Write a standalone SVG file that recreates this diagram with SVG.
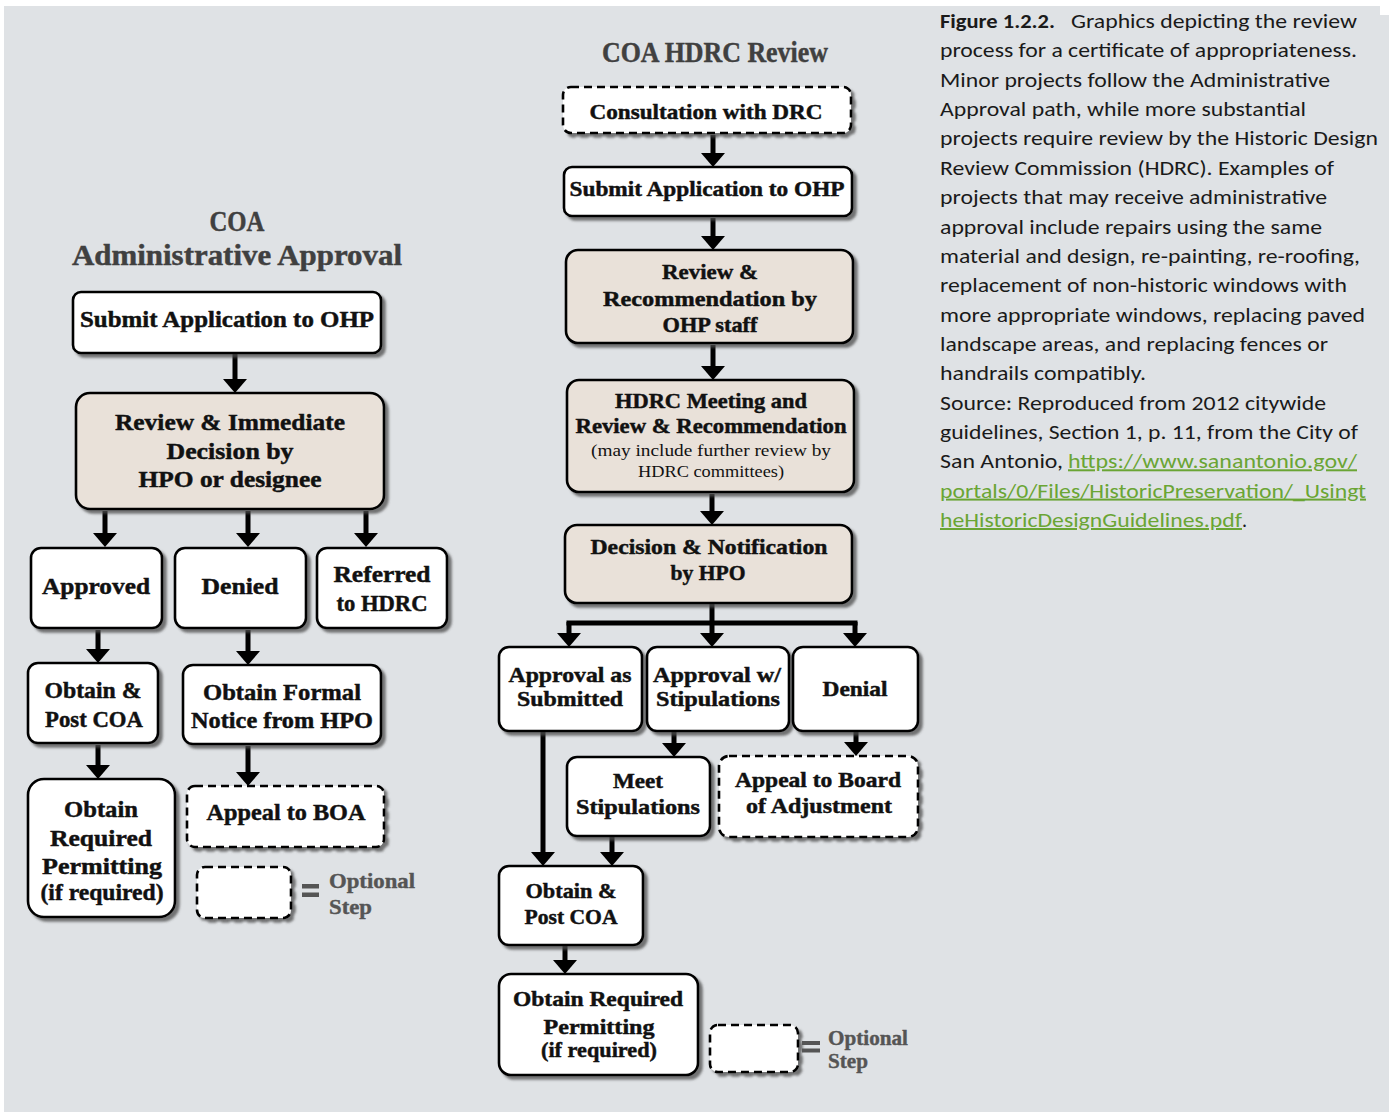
<svg xmlns="http://www.w3.org/2000/svg" width="1389" height="1112" viewBox="0 0 1389 1112">
<defs>
<filter id="sh" x="-10%" y="-10%" width="130%" height="140%">
<feDropShadow dx="3.5" dy="3.5" stdDeviation="1" flood-color="#4d4d4d" flood-opacity="0.75"/>
</filter>
<marker id="ah" markerUnits="userSpaceOnUse" markerWidth="14" markerHeight="24" viewBox="0 0 14 24" refX="0" refY="12" orient="auto">
<path d="M0,0 L14,12 L0,24 z" fill="#000"/>
</marker>
<style>
.box{fill:#fff;stroke:#000;stroke-width:2.6;filter:url(#sh)}
.tan{fill:#e9e1d9}
.dash{stroke-dasharray:8 5}
.t{font-family:"Liberation Serif",serif;font-weight:bold;fill:#111;stroke:#111;stroke-width:0.45;text-anchor:middle}
.l{font-size:23px}
.r{font-size:21px}
.s{font-size:16px;font-weight:normal;stroke-width:0}
.title{font-size:29px;fill:#404040;stroke:#404040}
.leg{font-family:"Liberation Serif",serif;font-weight:bold;fill:#555;stroke:#555;stroke-width:0.4;font-size:21px}
.eq{fill:#555}
.ar{stroke:#000;stroke-width:5;fill:none;marker-end:url(#ah)}
.ln{stroke:#000;stroke-width:5;fill:none}
.cap{font-family:Carlito,Lato,"Liberation Sans",sans-serif;font-size:20px;fill:#1a1a1a}
.link{fill:#6aa534;text-decoration:underline}
</style>
</defs>
<rect x="0" y="0" width="1389" height="1112" fill="#fff"/>
<rect x="4" y="6" width="1385" height="1106" fill="#dfe2e5"/>
<rect x="1380" y="0" width="9" height="15" fill="#fff"/>

<!-- Titles -->
<g id="title-left">
<text class="t title" x="237" y="231" textLength="55" lengthAdjust="spacingAndGlyphs">COA</text>
<text class="t title" x="237" y="265" textLength="330" lengthAdjust="spacingAndGlyphs">Administrative Approval</text>
</g>
<g id="title-right">
<text class="t title" x="715" y="62" textLength="226" lengthAdjust="spacingAndGlyphs">COA HDRC Review</text>
</g>

<!-- Connectors -->
<g id="connectors">
<line class="ar" x1="235" y1="354" x2="235" y2="379"/>
<line class="ar" x1="105" y1="511" x2="105" y2="533"/>
<line class="ar" x1="248" y1="511" x2="248" y2="533"/>
<line class="ar" x1="366" y1="511" x2="366" y2="533"/>
<line class="ar" x1="98" y1="630" x2="98" y2="649"/>
<line class="ar" x1="248" y1="630" x2="248" y2="651"/>
<line class="ar" x1="98" y1="745" x2="98" y2="765"/>
<line class="ar" x1="248" y1="746" x2="248" y2="772"/>
<line class="ar" x1="713" y1="135" x2="713" y2="153"/>
<line class="ar" x1="713" y1="218" x2="713" y2="236"/>
<line class="ar" x1="713" y1="345" x2="713" y2="366"/>
<line class="ar" x1="712" y1="494" x2="712" y2="511"/>
<path class="ln" d="M712,604 V623"/>
<path class="ln" d="M569,623 H855" stroke-linecap="square"/>
<line class="ar" x1="569" y1="622" x2="569" y2="633"/>
<line class="ar" x1="712" y1="622" x2="712" y2="633"/>
<line class="ar" x1="855" y1="622" x2="855" y2="633"/>
<line class="ar" x1="674" y1="732" x2="674" y2="743"/>
<line class="ar" x1="856" y1="732" x2="856" y2="742"/>
<line class="ar" x1="543" y1="732" x2="543" y2="852"/>
<line class="ar" x1="612" y1="837" x2="612" y2="852"/>
<line class="ar" x1="565" y1="946" x2="565" y2="960"/>
</g>

<!-- Left column nodes -->
<g id="l-submit">
<rect class="box" x="73" y="292" width="308" height="61" rx="8"/>
<text class="t l" x="227" y="327" textLength="294" lengthAdjust="spacingAndGlyphs">Submit Application to OHP</text>
</g>
<g id="l-review">
<rect class="box tan" x="76" y="393" width="308" height="116" rx="14"/>
<text class="t l" x="230" y="430" textLength="230" lengthAdjust="spacingAndGlyphs">Review &amp; Immediate</text>
<text class="t l" x="230" y="459" textLength="127" lengthAdjust="spacingAndGlyphs">Decision by</text>
<text class="t l" x="230" y="487" textLength="183" lengthAdjust="spacingAndGlyphs">HPO or designee</text>
</g>
<g id="l-approved">
<rect class="box" x="31" y="548" width="131" height="80" rx="10"/>
<text class="t l" x="96" y="594" textLength="108" lengthAdjust="spacingAndGlyphs">Approved</text>
</g>
<g id="l-denied">
<rect class="box" x="175" y="548" width="131" height="80" rx="10"/>
<text class="t l" x="240" y="594" textLength="77" lengthAdjust="spacingAndGlyphs">Denied</text>
</g>
<g id="l-referred">
<rect class="box" x="317" y="548" width="130" height="80" rx="10"/>
<text class="t l" x="382" y="582" textLength="97" lengthAdjust="spacingAndGlyphs">Referred</text>
<text class="t l" x="382" y="611" textLength="91" lengthAdjust="spacingAndGlyphs">to HDRC</text>
</g>
<g id="l-post">
<rect class="box" x="28" y="663" width="130" height="80" rx="10"/>
<text class="t l" x="93" y="698" textLength="97" lengthAdjust="spacingAndGlyphs">Obtain &amp;</text>
<text class="t l" x="94" y="727" textLength="98" lengthAdjust="spacingAndGlyphs">Post COA</text>
</g>
<g id="l-formal">
<rect class="box" x="183" y="665" width="198" height="79" rx="10"/>
<text class="t l" x="282" y="700" textLength="158" lengthAdjust="spacingAndGlyphs">Obtain Formal</text>
<text class="t l" x="282" y="728" textLength="182" lengthAdjust="spacingAndGlyphs">Notice from HPO</text>
</g>
<g id="l-permit">
<rect class="box" x="28" y="779" width="147" height="138" rx="16"/>
<text class="t l" x="101" y="817" textLength="74" lengthAdjust="spacingAndGlyphs">Obtain</text>
<text class="t l" x="101" y="846" textLength="102" lengthAdjust="spacingAndGlyphs">Required</text>
<text class="t l" x="102" y="874" textLength="120" lengthAdjust="spacingAndGlyphs">Permitting</text>
<text class="t l" x="102" y="900" textLength="123" lengthAdjust="spacingAndGlyphs">(if required)</text>
</g>
<g id="l-boa">
<rect class="box dash" x="187" y="786" width="197" height="61" rx="8"/>
<text class="t l" x="286" y="820" textLength="159" lengthAdjust="spacingAndGlyphs">Appeal to BOA</text>
</g>
<g id="l-legend">
<rect class="box dash" x="197" y="867" width="94" height="51" rx="8"/>
<rect class="eq" x="302" y="884" width="17" height="4.5"/>
<rect class="eq" x="302" y="892.5" width="17" height="4.5"/>
<text class="leg" x="329" y="888" textLength="86" lengthAdjust="spacingAndGlyphs">Optional</text>
<text class="leg" x="329" y="914" textLength="43" lengthAdjust="spacingAndGlyphs">Step</text>
</g>

<!-- Right column nodes -->
<g id="r-consult">
<rect class="box dash" x="563" y="87" width="288" height="46" rx="8"/>
<text class="t r" x="706" y="119" textLength="233" lengthAdjust="spacingAndGlyphs">Consultation with DRC</text>
</g>
<g id="r-submit">
<rect class="box" x="564" y="167" width="288" height="49" rx="8"/>
<text class="t r" x="707" y="196" textLength="275" lengthAdjust="spacingAndGlyphs">Submit Application to OHP</text>
</g>
<g id="r-review">
<rect class="box tan" x="566" y="250" width="287" height="93" rx="12"/>
<text class="t r" x="710" y="279" textLength="96" lengthAdjust="spacingAndGlyphs">Review &amp;</text>
<text class="t r" x="710" y="306" textLength="214" lengthAdjust="spacingAndGlyphs">Recommendation by</text>
<text class="t r" x="710" y="332" textLength="95" lengthAdjust="spacingAndGlyphs">OHP staff</text>
</g>
<g id="r-hdrc">
<rect class="box tan" x="567" y="380" width="287" height="112" rx="12"/>
<text class="t r" x="711" y="408" textLength="192" lengthAdjust="spacingAndGlyphs">HDRC Meeting and</text>
<text class="t r" x="711" y="433" textLength="271" lengthAdjust="spacingAndGlyphs">Review &amp; Recommendation</text>
<text class="t s" x="711" y="456" textLength="240" lengthAdjust="spacingAndGlyphs">(may include further review by</text>
<text class="t s" x="711" y="477" textLength="146" lengthAdjust="spacingAndGlyphs">HDRC committees)</text>
</g>
<g id="r-decision">
<rect class="box tan" x="565" y="525" width="287" height="78" rx="12"/>
<text class="t r" x="709" y="554" textLength="237" lengthAdjust="spacingAndGlyphs">Decision &amp; Notification</text>
<text class="t r" x="708" y="580" textLength="75" lengthAdjust="spacingAndGlyphs">by HPO</text>
</g>
<g id="r-asis">
<rect class="box" x="499" y="647" width="143" height="84" rx="10"/>
<text class="t r" x="570" y="682" textLength="123" lengthAdjust="spacingAndGlyphs">Approval as</text>
<text class="t r" x="570" y="706" textLength="106" lengthAdjust="spacingAndGlyphs">Submitted</text>
</g>
<g id="r-stip">
<rect class="box" x="647" y="647" width="142" height="84" rx="10"/>
<text class="t r" x="717" y="682" textLength="128" lengthAdjust="spacingAndGlyphs">Approval w/</text>
<text class="t r" x="718" y="706" textLength="124" lengthAdjust="spacingAndGlyphs">Stipulations</text>
</g>
<g id="r-denial">
<rect class="box" x="793" y="647" width="125" height="84" rx="10"/>
<text class="t r" x="855" y="696" textLength="65" lengthAdjust="spacingAndGlyphs">Denial</text>
</g>
<g id="r-meet">
<rect class="box" x="567" y="757" width="143" height="79" rx="10"/>
<text class="t r" x="638" y="788" textLength="50" lengthAdjust="spacingAndGlyphs">Meet</text>
<text class="t r" x="638" y="814" textLength="124" lengthAdjust="spacingAndGlyphs">Stipulations</text>
</g>
<g id="r-appeal">
<rect class="box dash" x="719" y="756" width="199" height="81" rx="10"/>
<text class="t r" x="818" y="787" textLength="166" lengthAdjust="spacingAndGlyphs">Appeal to Board</text>
<text class="t r" x="819" y="813" textLength="146" lengthAdjust="spacingAndGlyphs">of Adjustment</text>
</g>
<g id="r-post">
<rect class="box" x="499" y="866" width="144" height="79" rx="10"/>
<text class="t r" x="571" y="898" textLength="91" lengthAdjust="spacingAndGlyphs">Obtain &amp;</text>
<text class="t r" x="571" y="924" textLength="93" lengthAdjust="spacingAndGlyphs">Post COA</text>
</g>
<g id="r-permit">
<rect class="box" x="499" y="974" width="199" height="101" rx="12"/>
<text class="t r" x="598" y="1006" textLength="170" lengthAdjust="spacingAndGlyphs">Obtain Required</text>
<text class="t r" x="599" y="1034" textLength="111" lengthAdjust="spacingAndGlyphs">Permitting</text>
<text class="t r" x="599" y="1057" textLength="116" lengthAdjust="spacingAndGlyphs">(if required)</text>
</g>
<g id="r-legend">
<rect class="box dash" x="710" y="1025" width="88" height="47" rx="8"/>
<rect class="eq" x="802" y="1041" width="18" height="4"/>
<rect class="eq" x="802" y="1048.5" width="18" height="4"/>
<text class="leg" x="828" y="1045" textLength="80" lengthAdjust="spacingAndGlyphs">Optional</text>
<text class="leg" x="828" y="1068" textLength="40" lengthAdjust="spacingAndGlyphs">Step</text>
</g>

<!-- Caption -->
<g id="caption" class="cap">
<text x="940" y="28" font-weight="bold" textLength="115" lengthAdjust="spacingAndGlyphs">Figure 1.2.2.</text>
<text x="1071" y="28" textLength="286" lengthAdjust="spacingAndGlyphs">Graphics depicting the review</text>
<text x="940" y="57.4" textLength="417" lengthAdjust="spacingAndGlyphs">process for a certificate of appropriateness.</text>
<text x="940" y="86.7" textLength="390" lengthAdjust="spacingAndGlyphs">Minor projects follow the Administrative</text>
<text x="940" y="116" textLength="366" lengthAdjust="spacingAndGlyphs">Approval path, while more substantial</text>
<text x="940" y="145.4" textLength="438" lengthAdjust="spacingAndGlyphs">projects require review by the Historic Design</text>
<text x="940" y="174.8" textLength="394" lengthAdjust="spacingAndGlyphs">Review Commission (HDRC). Examples of</text>
<text x="940" y="204.1" textLength="387" lengthAdjust="spacingAndGlyphs">projects that may receive administrative</text>
<text x="940" y="233.5" textLength="382" lengthAdjust="spacingAndGlyphs">approval include repairs using the same</text>
<text x="940" y="262.8" textLength="420" lengthAdjust="spacingAndGlyphs">material and design, re-painting, re-roofing,</text>
<text x="940" y="292.2" textLength="407" lengthAdjust="spacingAndGlyphs">replacement of non-historic windows with</text>
<text x="940" y="321.5" textLength="425" lengthAdjust="spacingAndGlyphs">more appropriate windows, replacing paved</text>
<text x="940" y="350.9" textLength="388" lengthAdjust="spacingAndGlyphs">landscape areas, and replacing fences or</text>
<text x="940" y="380.2" textLength="206" lengthAdjust="spacingAndGlyphs">handrails compatibly.</text>
<text x="940" y="409.6" textLength="386" lengthAdjust="spacingAndGlyphs">Source: Reproduced from 2012 citywide</text>
<text x="940" y="438.9" textLength="418" lengthAdjust="spacingAndGlyphs">guidelines, Section 1, p. 11, from the City of</text>
<text x="940" y="468.3" textLength="123" lengthAdjust="spacingAndGlyphs">San Antonio,</text>
<text class="link" x="1068" y="468.3" textLength="289" lengthAdjust="spacingAndGlyphs">https://www.sanantonio.gov/</text>
<text class="link" x="940" y="497.6" textLength="426" lengthAdjust="spacingAndGlyphs">portals/0/Files/HistoricPreservation/_Usingt</text>
<text class="link" x="940" y="527" textLength="302" lengthAdjust="spacingAndGlyphs">heHistoricDesignGuidelines.pdf</text>
<text x="1242" y="527">.</text>
</g>
</svg>
